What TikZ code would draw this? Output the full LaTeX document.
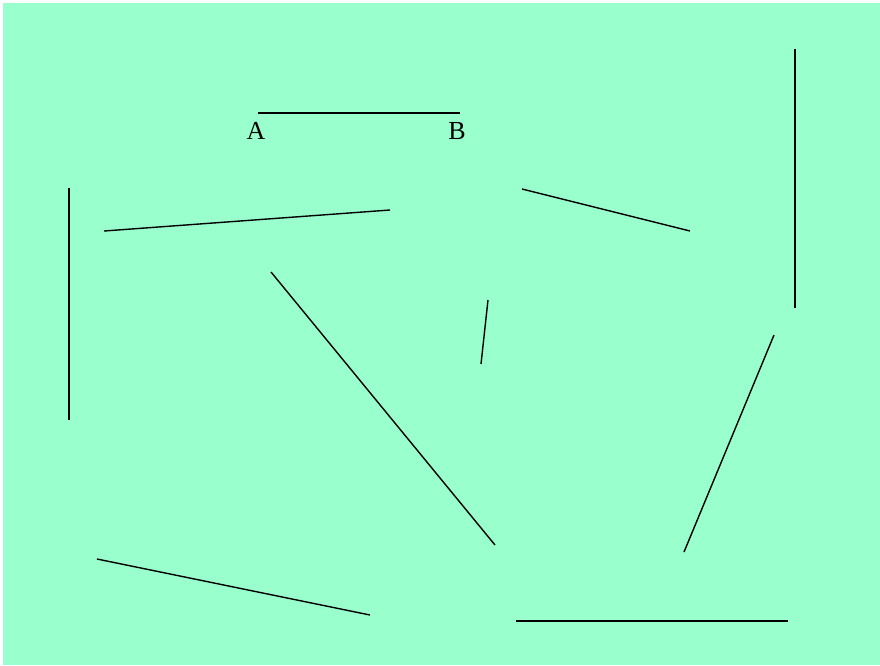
\documentclass[tikz,border=0pt]{standalone}
\usepackage{fontspec}
\setmainfont{Liberation Serif}
\definecolor{bg}{HTML}{99FFCC}
\begin{document}
\begin{tikzpicture}[x=1pt,y=-1pt,
  seg/.style={draw=black,line width=1.4pt},
  lbl/.style={inner sep=0pt,font=\fontsize{26}{30}\selectfont}]
\useasboundingbox (0,0) rectangle (880,665);
\fill[bg] (3,3) rectangle (880,665);
\coordinate (a1) at (258,113); \coordinate (a2) at (460,113);
\node[lbl] (A) at (256,131) {A};
\node[lbl] (B) at (457,131) {B};
\coordinate (b1) at (69,188); \coordinate (b2) at (69,420);
\coordinate (c1) at (104,231); \coordinate (c2) at (390,210);
\coordinate (d1) at (522,189); \coordinate (d2) at (690,231);
\coordinate (e1) at (795,49); \coordinate (e2) at (795,308);
\coordinate (f1) at (271,272); \coordinate (f2) at (495,545);
\coordinate (g1) at (488,300); \coordinate (g2) at (481,364);
\coordinate (h1) at (774,335); \coordinate (h2) at (684,552);
\coordinate (i1) at (97,559); \coordinate (i2) at (370,615);
\coordinate (j1) at (516,621); \coordinate (j2) at (788,621);
\draw[seg] (a1) -- (a2);
\draw[seg] (b1) -- (b2);
\draw[seg] (c1) -- (c2);
\draw[seg] (d1) -- (d2);
\draw[seg] (e1) -- (e2);
\draw[seg] (f1) -- (f2);
\draw[seg] (g1) -- (g2);
\draw[seg] (h1) -- (h2);
\draw[seg] (i1) -- (i2);
\draw[seg] (j1) -- (j2);
\end{tikzpicture}
\end{document}
